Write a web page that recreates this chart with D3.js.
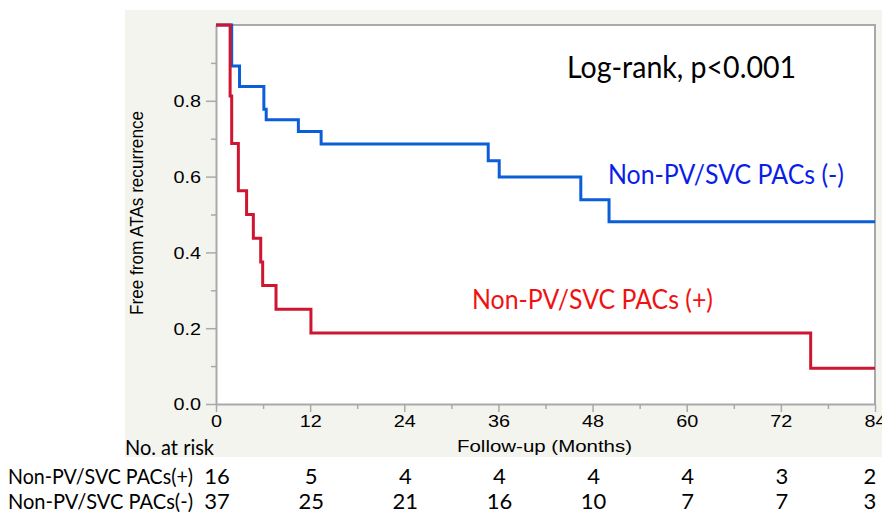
<!DOCTYPE html>
<html>
<head>
<meta charset="utf-8">
<script src="https://cdn.jsdelivr.net/npm/d3@7"></script>
<style>
  body { margin: 0; background: #fff; }
  svg { display: block; }
</style>
</head>
<body>
<div id="chart"></div>
<script>
// Kaplan-Meier steps (months, survival)
var timesPos = [0, 1.8, 2.0, 2.85, 3.9, 4.76, 5.7, 5.95, 7.65, 12.1, 75.8];
var survPos = [1.0, 0.8125, 0.6875, 0.5625, 0.5, 0.4375, 0.375, 0.3125, 0.25, 0.1875, 0.094];
var timesNeg = [0, 2.0, 3.0, 6.1, 6.4, 10.5, 13.4, 34.7, 36.1, 46.5, 50.1];
var survNeg = [1.0, 0.892, 0.838, 0.778, 0.75, 0.719, 0.686, 0.642, 0.599, 0.539, 0.481];
var followEnd = 84;

// number at risk table
var riskTimes = [0, 12, 24, 36, 48, 60, 72, 84];
var riskPos = [16, 5, 4, 4, 4, 4, 3, 2];
var riskNeg = [37, 25, 21, 16, 10, 7, 7, 3];
var rowLabels = ["Non-PV/SVC PACs(+)", "Non-PV/SVC PACs(-)"];

var xTicks = [0, 12, 24, 36, 48, 60, 72, 84];
var yTicks = [0, 0.2, 0.4, 0.6, 0.8];

var width = 882, height = 515;
// note: "top" is taken by window.top, so use plot* names
var plotLeft = 216, plotRight = 875, plotTop = 25, plotBottom = 404;
var calibri = "Lato, 'Open Sans', sans-serif";
var arial = "'Liberation Sans', Arial, sans-serif";

var svg = d3.select("#chart").append("svg")
    .attr("width", width)
    .attr("height", height);

// grey panel + white plot area
svg.append("rect").attr("x", 125).attr("y", 10).attr("width", width - 125).attr("height", 447)
    .attr("fill", "#f4f4ef");
svg.append("rect").attr("x", plotLeft).attr("y", plotTop)
    .attr("width", plotRight - plotLeft).attr("height", plotBottom - plotTop)
    .attr("fill", "#fff");

var x = d3.scaleLinear().domain([0, 84]).range([plotLeft, plotRight]);
var y = d3.scaleLinear().domain([0, 1]).range([plotBottom, plotTop]);

// frame (top / right)
svg.append("path")
    .attr("d", "M" + plotLeft + "," + plotTop + "H" + plotRight + "V" + plotBottom)
    .attr("fill", "none").attr("stroke", "#a9a9a9").attr("stroke-width", 2);

// minor ticks
var yMinor = [0.1, 0.3, 0.5, 0.7, 0.9];
var xMinor = [6, 18, 30, 42, 54, 66, 78];

var yAxis = svg.append("g").attr("transform", "translate(" + plotLeft + ",0)")
    .call(d3.axisLeft(y).tickValues(yTicks).tickFormat(d3.format(".1f")).tickSize(10).tickSizeOuter(0));
svg.append("g").attr("transform", "translate(" + plotLeft + ",0)")
    .call(d3.axisLeft(y).tickValues(yMinor).tickFormat("").tickSize(5).tickSizeOuter(0))
    .select(".domain").remove();
var xAxis = svg.append("g").attr("transform", "translate(0," + plotBottom + ")")
    .call(d3.axisBottom(x).tickValues(xTicks).tickSize(8).tickSizeOuter(0));
svg.append("g").attr("transform", "translate(0," + plotBottom + ")")
    .call(d3.axisBottom(x).tickValues(xMinor).tickFormat("").tickSize(5).tickSizeOuter(0))
    .select(".domain").remove();

svg.selectAll(".domain").attr("stroke", "#a9a9a9").attr("stroke-width", 2);
svg.selectAll(".tick line").attr("stroke", "#a9a9a9").attr("stroke-width", 1.5);
svg.selectAll(".tick text")
    .attr("font-family", arial).attr("font-size", 16.5).attr("fill", "#000");

// the picture is stretched sideways, so widen the axis labels
yAxis.selectAll(".tick text").attr("x", -15).attr("dy", "0.36em");
xAxis.selectAll(".tick text").attr("y", 11).attr("dy", "0.75em");
svg.selectAll(".tick text").each(function () {
    var w = this.getComputedTextLength();
    if (w > 0) d3.select(this).attr("textLength", w * 1.2).attr("lengthAdjust", "spacingAndGlyphs");
});

// axis titles
svg.append("text")
    .attr("transform", "translate(143,213) rotate(-90)")
    .attr("text-anchor", "middle")
    .attr("textLength", 204).attr("lengthAdjust", "spacingAndGlyphs")
    .attr("font-family", arial).attr("font-size", 17.5).attr("fill", "#000")
    .text("Free from ATAs recurrence");
svg.append("text")
    .attr("x", 457).attr("y", 452)
    .attr("textLength", 175).attr("lengthAdjust", "spacingAndGlyphs")
    .attr("font-family", arial).attr("font-size", 16.5).attr("fill", "#000")
    .text("Follow-up (Months)");

// curves
function kmPoints(times, surv) {
    var pts = times.map(function (t, i) { return [t, surv[i]]; });
    pts.push([followEnd, surv[surv.length - 1]]);
    return pts;
}
var line = d3.line()
    .x(function (d) { return x(d[0]); })
    .y(function (d) { return y(d[1]); })
    .curve(d3.curveStepAfter);

svg.append("path").datum(kmPoints(timesNeg, survNeg))
    .attr("d", line).attr("fill", "none")
    .attr("stroke", "#0b5ed8").attr("stroke-width", 3);
svg.append("path").datum(kmPoints(timesPos, survPos))
    .attr("d", line).attr("fill", "none")
    .attr("stroke", "#cf1631").attr("stroke-width", 3);

// annotations
svg.append("text").attr("x", 567).attr("y", 78)
    .attr("textLength", 229).attr("lengthAdjust", "spacingAndGlyphs")
    .attr("font-family", calibri).attr("font-size", 30).attr("fill", "#000")
    .text("Log-rank, p<0.001");
svg.append("text").attr("x", 608).attr("y", 184)
    .attr("textLength", 236).attr("lengthAdjust", "spacingAndGlyphs")
    .attr("font-family", calibri).attr("font-size", 26).attr("fill", "#0a1ee8")
    .text("Non-PV/SVC PACs (-)");
svg.append("text").attr("x", 472).attr("y", 309)
    .attr("textLength", 241).attr("lengthAdjust", "spacingAndGlyphs")
    .attr("font-family", calibri).attr("font-size", 26).attr("fill", "#f01212")
    .text("Non-PV/SVC PACs (+)");

// risk table
svg.append("text").attr("x", 125).attr("y", 455)
    .attr("textLength", 89).attr("lengthAdjust", "spacingAndGlyphs")
    .attr("font-family", calibri).attr("font-size", 21).attr("fill", "#000")
    .text("No. at risk");

var rows = [riskPos, riskNeg];
var rowY = [484, 509];
rows.forEach(function (vals, r) {
    svg.append("text").attr("x", 8).attr("y", rowY[r])
        .attr("textLength", 185).attr("lengthAdjust", "spacingAndGlyphs")
        .attr("font-family", calibri).attr("font-size", 21).attr("fill", "#000")
        .text(rowLabels[r]);
    svg.selectAll(null).data(vals).enter().append("text")
        .attr("x", function (d, i) { return Math.min(x(riskTimes[i]) + 1, 870); })
        .attr("y", rowY[r])
        .attr("text-anchor", "middle")
        .attr("font-family", calibri).attr("font-size", 22).attr("fill", "#000")
        .text(function (d) { return d; });
});
</script>
</body>
</html>
